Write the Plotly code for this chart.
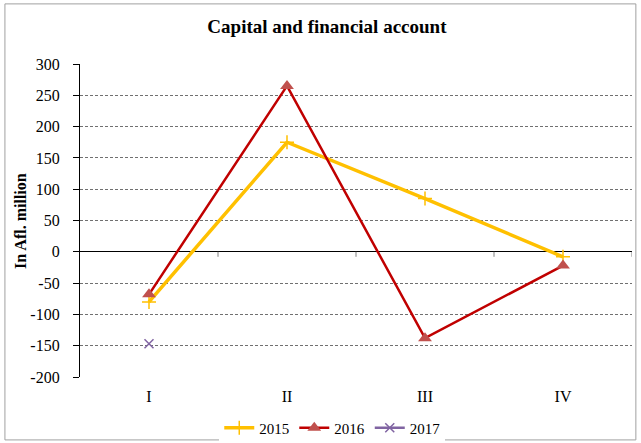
import plotly.graph_objects as go

quarters = ["I", "II", "III", "IV"]
s2015 = [-80, 175, 85, -8]
s2016 = [-68, 265, -138, -22]
s2017 = [-147, None, None, None]
yticks = [300, 250, 200, 150, 100, 50, 0, -50, -100, -150, -200]
yticktext = ["300", "250", "200", "150", "100", "50", "0", "-50", "-100", "-150", "-200"]

FF = "Liberation Serif, Times New Roman, serif"

fig = go.Figure()
fig.add_trace(go.Scatter(
    x=quarters, y=s2015, name="2015", mode="lines+markers",
    line=dict(color="#FFC000", width=3.5),
    marker=dict(symbol="cross-thin", size=10, line=dict(color="#FFC000", width=1.5), color="#FFC000"),
))
fig.add_trace(go.Scatter(
    x=quarters, y=s2016, name="2016", mode="lines+markers",
    line=dict(color="#C00000", width=2.5),
    marker=dict(symbol="triangle-up", size=12, color="#C0504D"),
))
fig.add_trace(go.Scatter(
    x=quarters, y=s2017, name="2017", mode="lines+markers",
    line=dict(color="#8064A2", width=2.5),
    marker=dict(symbol="x-thin", size=9, line=dict(color="#8064A2", width=1.5), color="#8064A2"),
))

# category boundary tick marks on the zero line
for b in [0.5, 1.5, 2.5, 3.5]:
    fig.add_shape(type="line", xref="x", yref="y", x0=b, x1=b, y0=0, y1=-8,
                  line=dict(color="#808080", width=1))

# outer chart border
fig.add_shape(type="rect", xref="paper", yref="paper",
              x0=-0.136, x1=1.007, y0=-0.201, y1=1.192,
              line=dict(color="#A0A0A0", width=1))

# y-axis title
fig.add_annotation(text="<b>In Afl. million</b>", xref="paper", yref="paper",
                   x=-0.108, y=0.5, textangle=-90, showarrow=False,
                   xanchor="center", yanchor="middle",
                   font=dict(family=FF, size=16, color="black"))

fig.update_layout(
    width=641, height=443,
    paper_bgcolor="white", plot_bgcolor="white",
    margin=dict(l=80, r=9, t=64, b=66, autoexpand=False),
    font=dict(family=FF, size=16, color="black"),
    title=dict(text="<b>Capital and financial account</b>", x=0.51, xanchor="center",
               y=0.94, yanchor="middle", font=dict(size=19, family=FF, color="black")),
    showlegend=True,
    legend=dict(orientation="h", x=0.457, xanchor="center", y=-0.163, yanchor="middle",
                font=dict(size=15, family=FF, color="black"), itemwidth=30, tracegroupgap=0),
    xaxis=dict(
        type="category", range=[-0.5, 3.5], showgrid=False, showline=False,
        zeroline=False, ticks="", automargin=False, ticklabelstandoff=8,
        tickfont=dict(size=16, family=FF, color="black"),
    ),
    yaxis=dict(
        range=[-200, 300], tickvals=yticks, ticktext=yticktext, showgrid=True,
        gridcolor="#707070", griddash="3px,2px", gridwidth=1, zeroline=True,
        zerolinecolor="black", zerolinewidth=1.2, showline=True, linecolor="black",
        linewidth=1.2, ticks="outside", ticklen=6, tickcolor="black",
        automargin=False, ticklabelstandoff=10,
        tickfont=dict(size=16, family=FF, color="black"),
    ),
)

fig.write_html("out.html", config={"displayModeBar": False},
               post_script="document.body.style.margin='0';document.body.style.overflow='hidden';")
